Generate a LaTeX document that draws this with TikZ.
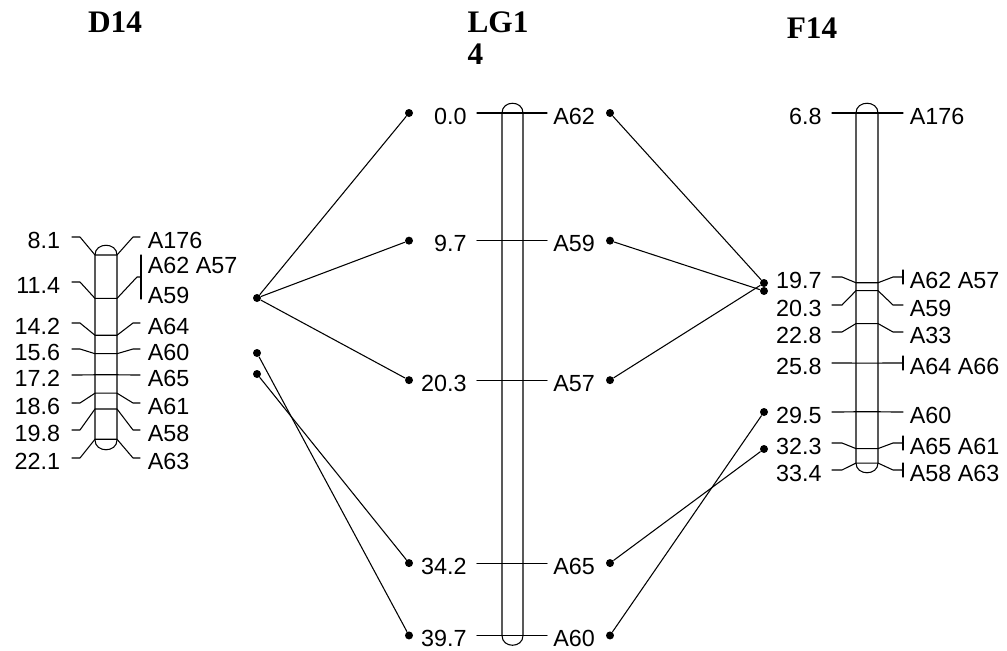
\documentclass[tikz,border=0pt]{standalone}
\usepackage{fontspec}
\setmainfont{Liberation Sans}
\newfontfamily\ttlfont{Liberation Serif}
\tikzset{
  num/.style={anchor=east, inner sep=1pt, font=\fontsize{17.5}{17.5}\selectfont},
  lbl/.style={anchor=west, inner sep=1pt, font=\fontsize{17.5}{17.5}\selectfont},
  ttl/.style={inner sep=0pt, font=\ttlfont\bfseries\fontsize{23.5}{24}\selectfont},
  dot/.style={circle, fill, inner sep=0pt, minimum size=6pt},
}
\begin{document}
\begin{tikzpicture}[x=0.75pt, y=-0.75pt, line width=0.8pt, line join=round, line cap=round]
            \useasboundingbox (0,0) rectangle (1007,650);
            % titles
            \node[ttl, anchor=base] (tD) at (115,32) {D14};
            \node[ttl, anchor=north west, align=left] (tLG) at (467,11) {LG1\\4};
            \node[ttl, anchor=base] (tF) at (812,38) {F14};
            % D14
            \draw (95,255) .. controls (95,242) and (117,242) .. (117,255) -- (117,440)
                .. controls (117,453) and (95,453) .. (95,440) -- cycle;
            \foreach \cm/\ly/\nm/\k in {8.1/237/A176/1, 14.2/323/A64/3, 15.6/349/A60/4, 17.2/375/A65/5,
                18.6/403/A61/6, 19.8/430/A58/7, 22.1/458/A63/8} {
              \pgfmathsetmacro\my{255+(\cm-8.1)*13.16}
              \node[num] (dn\k) at (62,\ly+3) {\cm};
              \node[lbl] (dl\k) at (146,\ly+3) {\nm};
              \draw (72,\ly) -- (80,\ly) -- (95,\my) -- (117,\my) -- (133,\ly) -- (140,\ly);
            }
            \node[num] (dn2) at (62,285) {11.4};
            \draw (72,282) -- (80,282) -- (95,298.4) -- (117,298.4) -- (137,277) -- (141,277);
            \draw (141,255) -- (141,299);
            \node[lbl] (dl2a) at (146,265) {A62 A57};
            \node[lbl] (dl2b) at (146,295) {A59};
            \node[dot] (da1) at (257,298) {};
            \node[dot] (da2) at (257,353) {};
            \node[dot] (da3) at (257,374) {};
            % LG14
            \draw (502,113) .. controls (502,100) and (523,100) .. (523,113) -- (523,635.5)
                .. controls (523,648.5) and (502,648.5) .. (502,635.5) -- cycle;
            \foreach \cm/\nm/\k in {0.0/A62/0, 9.7/A59/1, 20.3/A57/2, 34.2/A65/3, 39.7/A60/4} {
              \pgfmathsetmacro\my{113+\cm*13.16}
              \node[num] (gn\k) at (468.5,\my+3) {\cm};
              \node[lbl] (gl\k) at (551.5,\my+3) {\nm};
              \draw (477,\my) -- (547,\my);
              \node[dot] (ga\k) at (409,\my) {};
              \node[dot] (gb\k) at (610,\my) {};
            }
            % F14
            \draw (856,113) .. controls (856,100) and (878,100) .. (878,113) -- (878,463)
                .. controls (878,476) and (856,476) .. (856,463) -- cycle;
            \foreach \cm/\ly/\nm/\br [count=\i] in {6.8/113/A176/0, 19.7/277/A62 A57/1, 20.3/305/A59/0,
                22.8/332/A33/0, 25.8/363/A64 A66/1, 29.5/412/A60/0, 32.3/443/A65 A61/1, 33.4/470/A58 A63/1} {
              \pgfmathsetmacro\my{113+(\cm-6.8)*13.16}
              \node[num] (fn\i) at (823.5,\ly+3) {\cm};
              \node[lbl] (fl\i) at (908,\ly+3) {\nm};
              \draw (832,\ly) -- (842,\ly) -- (856,\my) -- (878,\my) -- (893,\ly) -- (903,\ly);
              \ifnum\br=1 \draw (903,\ly-7) -- (903,\ly+7); \fi
            }
            \node[dot] (fa1) at (764,283) {};
            \node[dot] (fa2) at (764,291) {};
            \node[dot] (fa3) at (764,412) {};
            \node[dot] (fa4) at (764,449) {};
            % links
            \draw (da1) -- (ga0);
            \draw (da1) -- (ga1);
            \draw (da1) -- (ga2);
            \draw (da2) -- (ga4);
            \draw (da3) -- (ga3);
            \draw (gb0) -- (fa1);
            \draw (gb1) -- (fa2);
            \draw (gb2) -- (fa1);
            \draw (gb3) -- (fa4);
            \draw (gb4) -- (fa3);
\end{tikzpicture}
\end{document}
